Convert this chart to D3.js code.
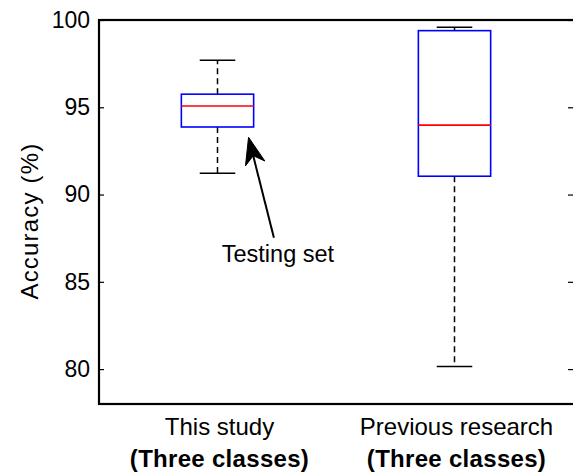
<!DOCTYPE html>
<html>
<head>
<meta charset="utf-8">
<script src="https://cdn.jsdelivr.net/npm/d3@7"></script>
<style>
  html, body { margin: 0; padding: 0; background: #fff; }
  text { font-family: "Liberation Sans", Arial, sans-serif; fill: #000; }
</style>
</head>
<body>
<svg id="chart" width="573" height="474"></svg>
<script>
// ---- data ----
const categories = ["This study", "Previous research"];
const subLabels = ["(Three classes)", "(Three classes)"];
const whiskerLow = [91.22, 80.15];
const q1 = [93.87, 91.05];
const medians = [95.07, 93.98];
const q3 = [95.75, 99.39];
const whiskerHigh = [97.70, 99.58];
const yTicks = [80, 85, 90, 95, 100];
const yLabel = "Accuracy (%)";
const annotationText = "Testing set";
const arrowTail = [1.238, 87.53];
const arrowTip = [1.131, 93.28];
const textAnchor = [1.255, 86.15];

// ---- layout ----
const svg = d3.select("#chart");
const W = 573, H = 474;
const m = { left: 99, top: 20, right: 0, bottom: 70 };
const x = d3.scaleLinear().domain([0.5, 2.5]).range([m.left, W - m.right]);
const y = d3.scaleLinear().domain([78, 100]).range([H - m.bottom, m.top]);
const boxW = 0.305, capW = 0.15;
const fs = 24;

const g = svg.append("g");

// frame (right edge lies just outside the canvas)
g.append("rect").attr("x", x(0.5)).attr("y", y(100))
  .attr("width", x(2.5) - x(0.5) + 3).attr("height", y(78) - y(100))
  .attr("fill", "none").attr("stroke", "#000").attr("stroke-width", 2.2);

// left axis ticks (inward) + labels
const yAxisL = d3.axisLeft(y).tickValues(yTicks).tickSize(-5).tickPadding(9).tickFormat(d3.format("d"));
const ga = g.append("g").attr("transform", `translate(${x(0.5)},0)`).call(yAxisL);
ga.select(".domain").remove();
ga.selectAll(".tick line").attr("stroke", "#000").attr("stroke-width", 1.2);
ga.selectAll(".tick text").attr("font-size", 23).attr("font-family", "Liberation Sans, Arial, sans-serif").attr("fill", "#000");

// right axis ticks (inward)
const yAxisR = d3.axisRight(y).tickValues(yTicks).tickSize(-5).tickFormat("");
const gr = g.append("g").attr("transform", `translate(${x(2.5)},0)`).call(yAxisR);
gr.select(".domain").remove();
gr.selectAll(".tick line").attr("stroke", "#000").attr("stroke-width", 1.2);

// y label
g.append("text").attr("transform", `translate(38,221) rotate(-90)`)
  .attr("text-anchor", "middle").attr("font-size", fs).attr("letter-spacing", 1.2).text(yLabel);

// boxes
categories.forEach((c, i) => {
  const cx = i + 1;
  // whiskers dashed
  g.append("line").attr("x1", x(cx)).attr("x2", x(cx)).attr("y1", y(q3[i])).attr("y2", y(whiskerHigh[i]))
    .attr("stroke", "#000").attr("stroke-width", 1.5).attr("stroke-dasharray", "6,4");
  g.append("line").attr("x1", x(cx)).attr("x2", x(cx)).attr("y1", y(q1[i])).attr("y2", y(whiskerLow[i]))
    .attr("stroke", "#000").attr("stroke-width", 1.5).attr("stroke-dasharray", "6,4");
  // caps
  [whiskerHigh[i], whiskerLow[i]].forEach(v => {
    g.append("line").attr("x1", x(cx - capW / 2)).attr("x2", x(cx + capW / 2)).attr("y1", y(v)).attr("y2", y(v))
      .attr("stroke", "#000").attr("stroke-width", 1.5);
  });
  // box
  g.append("rect").attr("x", x(cx - boxW / 2)).attr("y", y(q3[i]))
    .attr("width", x(cx + boxW / 2) - x(cx - boxW / 2)).attr("height", y(q1[i]) - y(q3[i]))
    .attr("fill", "none").attr("stroke", "#0000ff").attr("stroke-width", 1.6);
  // median
  g.append("line").attr("x1", x(cx - boxW / 2)).attr("x2", x(cx + boxW / 2)).attr("y1", y(medians[i])).attr("y2", y(medians[i]))
    .attr("stroke", "#ff0000").attr("stroke-width", 1.6);
  // category labels
  g.append("text").attr("x", x(cx) + 2).attr("y", 435).attr("text-anchor", "middle").attr("font-size", fs).text(c);
  g.append("text").attr("x", x(cx) + 2).attr("y", 467).attr("text-anchor", "middle").attr("font-size", fs)
    .attr("font-weight", "bold").attr("letter-spacing", 0.3).text(subLabels[i]);
});

// annotation arrow
const tx = x(arrowTip[0]), ty = y(arrowTip[1]);
const sx = x(arrowTail[0]), sy = y(arrowTail[1]);
const dx = tx - sx, dy = ty - sy, L = Math.hypot(dx, dy);
const ux = dx / L, uy = dy / L, nx = -uy, ny = ux;
const hl = 27, hw = 10, notch = 19;
g.append("line").attr("x1", sx).attr("y1", sy).attr("x2", tx - ux * notch).attr("y2", ty - uy * notch)
  .attr("stroke", "#000").attr("stroke-width", 2);
const pts = [
  [tx, ty],
  [tx - ux * hl + nx * hw, ty - uy * hl + ny * hw],
  [tx - ux * notch, ty - uy * notch],
  [tx - ux * hl - nx * hw, ty - uy * hl - ny * hw]
];
g.append("path").attr("d", d3.line()(pts) + "Z").attr("fill", "#000").attr("stroke", "#000").attr("stroke-width", 1);

g.append("text").attr("x", x(textAnchor[0])).attr("y", y(textAnchor[1])).attr("text-anchor", "middle")
  .attr("font-size", 23.5).text(annotationText);
</script>
</body>
</html>
